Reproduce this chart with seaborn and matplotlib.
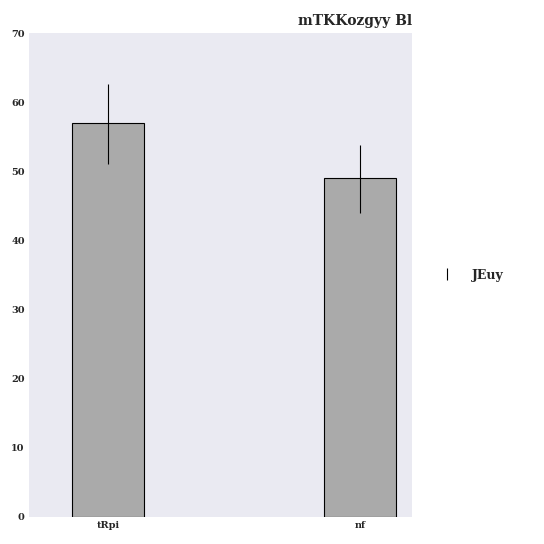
import matplotlib
matplotlib.use("Agg")
import matplotlib.pyplot as plt
import seaborn as sns
import numpy as np

categories = ["tRpi", "nf"]
values = [57.0, 49.0]
err_low = [51.0, 44.0]
err_high = [62.6, 53.8]

sns.set_theme(style="dark")
plt.rcParams["font.family"] = ["DejaVu Serif"]

fig = plt.figure(figsize=(5.44, 5.44), dpi=100)
ax = fig.add_axes([29 / 544, 27 / 544, 383 / 544, 484 / 544])
ax.set_facecolor("#eaeaf2")

sns.barplot(x=categories, y=values, color="#aaaaaa", edgecolor="black",
            linewidth=0.8, width=0.285, saturation=1, errorbar=None, ax=ax)
x = np.arange(len(categories))
yerr = [np.array(values) - np.array(err_low), np.array(err_high) - np.array(values)]
ax.errorbar(x, values, yerr=yerr, fmt="none", ecolor="black", elinewidth=0.8,
            label="JEuy")

ax.set_xlim(-0.313, 1.207)
ax.set_ylim(0, 70)
ax.set_yticks(range(0, 71, 10))
ax.tick_params(axis="both", labelsize=7, length=0, pad=3)
for lbl in ax.get_xticklabels() + ax.get_yticklabels():
    lbl.set_fontweight("bold")
for s in ax.spines.values():
    s.set_visible(False)
ax.set_title("mTKKozgyy Bl", loc="right", fontsize=10, fontweight="bold", pad=6)

ax.legend(loc="center left", bbox_to_anchor=(1.02, 0.5), frameon=False,
          prop={"size": 9, "weight": "bold"}, handlelength=2.5)

fig.savefig("out.png", dpi=100)
